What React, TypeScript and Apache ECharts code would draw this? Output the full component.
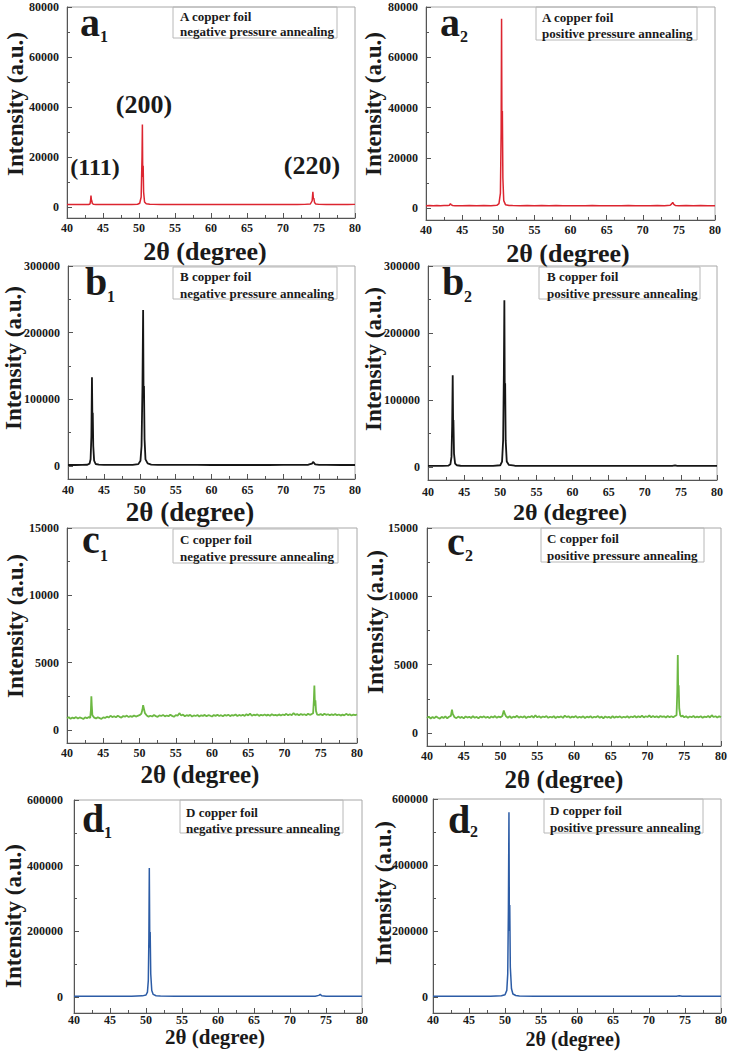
import React, { useEffect, useRef } from "react";
import * as echarts from "echarts";

const FONT = '"Liberation Serif", "Times New Roman", serif';
const TXT = "#1a1a1a";
const RED = "#dc2530";
const BLACK = "#161616";
const GREEN = "#6cb842";
const BLUE = "#2c5ca6";

// ---------- data (2θ, intensity) ----------
const a1Data = [[40,1000],[40.5,1050],[41,980],[41.5,1030],[42,1000],[42.5,1050],[43,1020],[43.2,1200],[43.28,2800],[43.33,4600],[43.38,3000],[43.43,2600],[43.52,1400],[43.7,1050],[44,1000],[45,980],[46,1020],[47,1000],[48,1030],[49,1000],[49.8,1100],[50.1,1500],[50.3,4000],[50.42,20000],[50.47,33000],[50.52,12000],[50.58,16500],[50.64,6000],[50.77,2000],[51,1300],[51.5,1100],[52,1050],[53,1000],[54,1030],[55,1000],[56,1020],[57,980],[58,1000],[59,1020],[60,980],[61,1000],[62,1020],[63,990],[64,1000],[65,1030],[66,1000],[67,1020],[68,1000],[69,1030],[70,1000],[71,1040],[72,1000],[73,1050],[73.8,1200],[74.05,2500],[74.15,6100],[74.22,3200],[74.28,3600],[74.38,1800],[74.55,1200],[75,1050],[76,1030],[77,1000],[78,1040],[79,1000],[80,1050]];
const a2Data = [[40,1000],[40.5,1060],[41,990],[41.5,1040],[42,1000],[42.5,1050],[43,1030],[43.25,1200],[43.38,1800],[43.5,1300],[43.7,1050],[44,1000],[45,980],[46,1020],[47,990],[48,1030],[49,1000],[49.8,1150],[50.1,1800],[50.3,6000],[50.4,30000],[50.46,75300],[50.51,30000],[50.57,38600],[50.64,12000],[50.76,3000],[51,1400],[51.5,1100],[52,1050],[53,1000],[54,1040],[55,1000],[56,1020],[57,990],[58,1030],[59,1000],[60,980],[61,1010],[62,990],[63,1020],[64,1000],[65,990],[66,1010],[67,990],[68,1020],[69,1000],[70,1010],[71,990],[72,1030],[73,1000],[73.8,1150],[74,1700],[74.15,2300],[74.3,1500],[74.5,1100],[75,1000],[76,1040],[77,1000],[78,1020],[79,990],[80,1010]];
const b1Data = [[40,1500],[41,1500],[42,1600],[42.7,1900],[43.0,3500],[43.15,10000],[43.26,45000],[43.34,133000],[43.4,70000],[43.45,80000],[43.52,30000],[43.64,8000],[43.85,3000],[44.3,2000],[45,1700],[46,1600],[47,1600],[48,1700],[49,1800],[49.8,2800],[50.1,8000],[50.25,30000],[50.38,120000],[50.47,234000],[50.53,110000],[50.59,120000],[50.67,40000],[50.8,10000],[51.1,4000],[51.6,2200],[52.5,1800],[54,1700],[56,1600],[58,1600],[60,1500],[62,1500],[64,1500],[66,1500],[68,1500],[70,1600],[72,1700],[73.5,1900],[74,3500],[74.15,6000],[74.3,4500],[74.45,2500],[75,1800],[76,1600],[78,1500],[80,1500]];
const b2Data = [[40,1500],[41,1500],[42,1600],[42.8,1900],[43.1,4000],[43.25,15000],[43.34,60000],[43.42,137000],[43.48,60000],[43.52,70000],[43.6,20000],[43.75,5000],[44,2500],[44.5,1800],[45,1600],[46,1500],[47,1500],[48,1600],[49,1700],[50,2500],[50.25,8000],[50.4,40000],[50.5,140000],[50.57,249000],[50.63,100000],[50.68,125000],[50.75,40000],[50.9,8000],[51.2,3000],[52,1800],[53,1600],[55,1500],[57,1500],[60,1500],[62,1500],[65,1500],[68,1500],[70,1500],[72,1500],[73.8,1700],[74.2,2500],[74.5,1700],[75,1500],[77,1500],[80,1500]];
const c1Data = [[40,880],[40.25,950],[40.5,830],[40.75,920],[41,870],[41.25,960],[41.5,850],[41.75,930],[42,890],[42.25,820],[42.5,940],[42.75,880],[43,960],[43.2,900],[43.3,1500],[43.36,2500],[43.42,1800],[43.5,1100],[43.75,920],[44,860],[44.25,950],[44.5,880],[44.75,830],[45,940],[45.25,900],[45.5,990],[45.75,930],[46,1050],[46.25,960],[46.5,1020],[46.75,940],[47,1060],[47.25,980],[47.5,920],[47.75,1040],[48,990],[48.25,1070],[48.5,960],[48.75,1030],[49,980],[49.25,1080],[49.5,1000],[49.75,1050],[50,1100],[50.25,1200],[50.4,1500],[50.5,1850],[50.6,1600],[50.75,1250],[51,1080],[51.25,990],[51.5,1060],[51.75,1000],[52,1110],[52.25,1030],[52.5,970],[52.75,1090],[53,1040],[53.25,1120],[53.5,1010],[53.75,1080],[54,1020],[54.25,1130],[54.5,1050],[54.75,980],[55,1100],[55.25,1060],[55.5,1250],[55.75,1080],[56,1140],[56.25,1020],[56.5,1100],[56.75,1050],[57,1130],[57.25,1000],[57.5,1080],[57.75,1040],[58,1110],[58.25,1010],[58.5,1090],[58.75,1050],[59,1120],[59.25,1030],[59.5,1100],[59.75,1060],[60,1000],[60.25,1110],[60.5,1050],[60.75,1130],[61,1040],[61.25,1100],[61.5,1020],[61.75,1120],[62,1060],[62.25,1140],[62.5,1030],[62.75,1110],[63,1070],[63.25,1150],[63.5,1040],[63.75,1120],[64,1060],[64.25,1130],[64.5,1050],[64.75,1170],[65,1080],[65.25,1220],[65.5,1060],[65.75,1140],[66,1090],[66.25,1160],[66.5,1050],[66.75,1130],[67,1080],[67.25,1150],[67.5,1070],[67.75,1140],[68,1060],[68.25,1170],[68.5,1090],[68.75,1130],[69,1070],[69.25,1160],[69.5,1080],[69.75,1150],[70,1100],[70.25,1200],[70.5,1090],[70.75,1170],[71,1110],[71.25,1250],[71.5,1120],[71.75,1180],[72,1100],[72.25,1190],[72.5,1120],[72.75,1170],[73,1100],[73.25,1200],[73.5,1130],[73.75,1180],[73.95,1250],[74.05,2200],[74.12,3300],[74.2,1800],[74.26,2200],[74.35,1400],[74.5,1150],[74.75,1120],[75,1180],[75.25,1100],[75.5,1200],[75.75,1130],[76,1170],[76.25,1090],[76.5,1160],[76.75,1110],[77,1180],[77.25,1100],[77.5,1150],[77.75,1070],[78,1140],[78.25,1090],[78.5,1200],[78.75,1110],[79,1160],[79.25,1080],[79.5,1140],[79.75,1100],[80,1150]];
const c2Data = [[40,1100],[40.25,1200],[40.5,1060],[40.75,1170],[41,1090],[41.25,1210],[41.5,1120],[41.75,1050],[42,1180],[42.25,1100],[42.5,1220],[42.75,1080],[43,1190],[43.25,1250],[43.4,1700],[43.5,1400],[43.75,1150],[44,1090],[44.25,1200],[44.5,1110],[44.75,1180],[45,1070],[45.25,1210],[45.5,1130],[45.75,1190],[46,1100],[46.25,1230],[46.5,1120],[46.75,1180],[47,1080],[47.25,1200],[47.5,1140],[47.75,1220],[48,1110],[48.25,1190],[48.5,1090],[48.75,1210],[49,1130],[49.25,1240],[49.5,1110],[49.75,1200],[50,1150],[50.25,1250],[50.45,1650],[50.55,1450],[50.75,1220],[51,1120],[51.25,1230],[51.5,1100],[51.75,1200],[52,1150],[52.25,1260],[52.5,1120],[52.75,1210],[53,1140],[53.25,1230],[53.5,1100],[53.75,1200],[54,1160],[54.25,1250],[54.5,1130],[54.75,1300],[55,1150],[55.25,1220],[55.5,1120],[55.75,1210],[56,1160],[56.25,1240],[56.5,1110],[56.75,1190],[57,1140],[57.25,1230],[57.5,1100],[57.75,1200],[58,1150],[58.25,1220],[58.5,1110],[58.75,1270],[59,1160],[59.25,1230],[59.5,1120],[59.75,1200],[60,1150],[60.25,1240],[60.5,1110],[60.75,1190],[61,1130],[61.25,1220],[61.5,1100],[61.75,1200],[62,1140],[62.25,1230],[62.5,1110],[62.75,1190],[63,1150],[63.25,1240],[63.5,1120],[63.75,1200],[64,1080],[64.25,1210],[64.5,1130],[64.75,1180],[65,1100],[65.25,1230],[65.5,1120],[65.75,1200],[66,1150],[66.25,1220],[66.5,1110],[66.75,1190],[67,1140],[67.25,1230],[67.5,1120],[67.75,1210],[68,1150],[68.25,1240],[68.5,1130],[68.75,1220],[69,1160],[69.25,1260],[69.5,1140],[69.75,1230],[70,1170],[70.25,1280],[70.5,1150],[70.75,1240],[71,1160],[71.25,1230],[71.5,1140],[71.75,1250],[72,1180],[72.25,1220],[72.5,1130],[72.75,1240],[73,1160],[73.25,1230],[73.5,1150],[73.75,1240],[73.95,1300],[74.05,3000],[74.12,5700],[74.18,2800],[74.24,3500],[74.32,1800],[74.45,1300],[74.6,1200],[74.75,1280],[75,1150],[75.25,1230],[75.5,1120],[75.75,1210],[76,1160],[76.25,1240],[76.5,1130],[76.75,1200],[77,1150],[77.25,1230],[77.5,1120],[77.75,1200],[78,1160],[78.25,1250],[78.5,1140],[78.75,1300],[79,1170],[79.25,1230],[79.5,1130],[79.75,1220],[80,1160]];
const d1Data = [[40,2000],[42,2000],[44,2100],[46,2200],[48,2500],[49.5,3500],[50,6000],[50.2,15000],[50.32,50000],[50.4,180000],[50.46,393000],[50.53,150000],[50.58,198000],[50.66,70000],[50.8,20000],[51,8000],[51.4,4000],[52,2800],[54,2300],[57,2100],[60,2000],[65,2000],[70,2000],[73.5,2300],[74,5000],[74.2,8000],[74.4,4000],[75,2300],[77,2000],[80,2000]];
const d2Data = [[40,2000],[42,2000],[44,2100],[46,2200],[48,2600],[49.5,4000],[50,7000],[50.25,20000],[50.38,70000],[50.47,260000],[50.55,560000],[50.61,200000],[50.66,279000],[50.74,90000],[50.9,25000],[51.1,9000],[51.5,4500],[52,3000],[54,2400],[57,2100],[60,2000],[65,2000],[70,2000],[73.8,2200],[74.2,3500],[74.6,2200],[77,2000],[80,2000]];

// ---------- axis ticks ----------
const aTicks = [0, 20000, 40000, 60000, 80000];
const aMinor = [10000, 30000, 50000, 70000];
const bTicks = [0, 100000, 200000, 300000];
const bMinor = [50000, 150000, 250000];
const cTicks = [0, 5000, 10000, 15000];
const cMinor = [2500, 7500, 12500];
const dTicks = [0, 200000, 400000, 600000];
const dMinor = [100000, 300000, 500000];

const letters = ["a", "a", "b", "b", "c", "c", "d", "d"];
const subs = ["1", "2", "1", "2", "1", "2", "1", "2"];
const foils = ["A copper foil", "A copper foil", "B copper foil", "B copper foil", "C copper foil", "C copper foil", "D copper foil", "D copper foil"];
const modes = ["negative pressure annealing", "positive pressure annealing", "negative pressure annealing", "positive pressure annealing", "negative pressure annealing", "positive pressure annealing", "negative pressure annealing", "positive pressure annealing"];
const hklLabels = ["(111)", "(200)", "(220)"];

// ---------- layout ----------
const panels = [
  { data: a1Data, color: RED, lw: 1.5, g: [67, 7, 288, 211], yMin: -4400, yMax: 80000, ticks: aTicks, minor: aMinor, yM: 8, xM: 4,
    lab: [80, 36, 100, 42], box: [173, 7, 164, 31, 180, 16, 31], yt: [15, 104], xt: [205, 251, 26] },
  { data: a2Data, color: RED, lw: 1.5, g: [426, 7, 289, 213], yMin: -4700, yMax: 80000, ticks: aTicks, minor: aMinor, yM: 8, xM: 4,
    lab: [440, 36, 460, 42], box: [536, 7, 161, 33, 542, 17, 33], yt: [373, 104], xt: [568, 253, 26] },
  { data: b1Data, color: BLACK, lw: 1.8, g: [68, 266, 287, 213], yMin: -19500, yMax: 300000, ticks: bTicks, minor: bMinor, yM: 8, xM: 5,
    lab: [85, 295, 107, 302], box: [173, 267, 164, 32, 180, 276, 293], yt: [13, 358], xt: [190, 512, 27] },
  { data: b2Data, color: BLACK, lw: 1.8, g: [428, 266, 289, 214], yMin: -19500, yMax: 300000, ticks: bTicks, minor: bMinor, yM: 8, xM: 6,
    lab: [442, 295, 464, 302], box: [539, 267, 161, 32, 547, 276, 293], yt: [373, 359], xt: [570, 512, 24] },
  { data: c1Data, color: GREEN, lw: 1.8, g: [67, 528, 290, 215], yMin: -965, yMax: 15000, ticks: cTicks, minor: cMinor, yM: 8, xM: 4,
    lab: [82, 553, 100, 561], box: [173, 529, 165, 34, 180, 539, 556], yt: [15, 626], xt: [200, 774, 25] },
  { data: c2Data, color: GREEN, lw: 1.8, g: [427, 528, 294, 218], yMin: -950, yMax: 15000, ticks: cTicks, minor: cMinor, yM: 9, xM: 4,
    lab: [447, 555, 465, 561], box: [541, 528, 163, 34, 547, 538, 555], yt: [375, 622], xt: [564, 779, 25] },
  { data: d1Data, color: BLUE, lw: 1.5, g: [74, 800, 288, 213], yMin: -48700, yMax: 600000, ticks: dTicks, minor: dMinor, yM: 11, xM: 1,
    lab: [82, 832, 104, 838], box: [180, 800, 163, 33, 186, 812, 828], yt: [13, 916], xt: [215, 1037, 21] },
  { data: d2Data, color: BLUE, lw: 1.5, g: [433, 799, 288, 214], yMin: -48500, yMax: 600000, ticks: dTicks, minor: dMinor, yM: 5, xM: 1,
    lab: [448, 833, 470, 837], box: [544, 799, 159, 34, 550, 810, 827], yt: [383, 893], xt: [573, 1039, 20] },
];
const hklPos = [[95, 167, 24], [144, 104, 26], [312, 165, 26]];

function txt(text: string, x: number, y: number, size: number, align = "left", rot = 0) {
  return {
    type: "text", x, y, rotation: rot, silent: true,
    style: { text, fill: TXT, fontSize: size, fontWeight: "bold", fontFamily: FONT, textAlign: align, textVerticalAlign: "middle" },
  };
}

export default function App() {
  const ref = useRef<HTMLDivElement>(null);
  useEffect(() => {
    if (!ref.current) return;
    const chart = echarts.init(ref.current, null, { renderer: "svg" });
    const labelStyle = { fontSize: 12, fontWeight: "bold", fontFamily: FONT, color: TXT };
    const grid = panels.map((p) => ({
      left: p.g[0], top: p.g[1], width: p.g[2], height: p.g[3],
      show: true, borderColor: "#a8a8a8", borderWidth: 1, containLabel: false, outerBoundsMode: "none",
    }));
    const xAxis = panels.map((p, i) => ({
      type: "value", gridIndex: i, min: 40, max: 80, interval: 5,
      axisLine: { show: true, onZero: false, lineStyle: { color: "#555", width: 1 } },
      axisTick: { show: true, inside: true, length: 5, lineStyle: { color: "#555" } },
      minorTick: { show: true, splitNumber: 2, length: 3, lineStyle: { color: "#555" } },
      splitLine: { show: false }, minorSplitLine: { show: false },
      axisLabel: { ...labelStyle, margin: p.xM, formatter: (v: number) => String(v) },
    }));
    const yAxis: any[] = [];
    panels.forEach((p, i) => {
      yAxis.push({
        type: "value", gridIndex: i, min: p.yMin, max: p.yMax, position: "left",
        axisLine: { show: true, onZero: false, lineStyle: { color: "#555", width: 1 } },
        axisTick: { show: true, inside: true, length: 5, customValues: p.ticks, lineStyle: { color: "#555" } },
        splitLine: { show: false },
        axisLabel: { ...labelStyle, margin: p.yM, customValues: p.ticks, formatter: (v: number) => String(v) },
      });
      yAxis.push({
        type: "value", gridIndex: i, min: p.yMin, max: p.yMax, position: "left",
        axisLine: { show: false },
        axisTick: { show: true, inside: true, length: 3, customValues: p.minor, lineStyle: { color: "#555" } },
        splitLine: { show: false },
        axisLabel: { show: false },
      });
    });
    const series = panels.map((p, i) => ({
      type: "line", xAxisIndex: i, yAxisIndex: 2 * i, data: p.data, showSymbol: false, symbol: "none",
      silent: true, lineStyle: { color: p.color, width: p.lw }, z: 3,
    }));
    const graphic: any[] = [];
    panels.forEach((p, i) => {
      graphic.push(txt(letters[i], p.lab[0], p.lab[1] - 0.34 * 40, 40));
      graphic.push(txt(subs[i], p.lab[2], p.lab[3] - 0.34 * 16, 16));
      graphic.push({
        type: "rect", silent: true, shape: { x: p.box[0], y: p.box[1], width: p.box[2], height: p.box[3] },
        style: { fill: "rgba(0,0,0,0)", stroke: "#b8b8b8", lineWidth: 1 },
      });
      graphic.push(txt(foils[i], p.box[4], p.box[5], 13));
      graphic.push(txt(modes[i], p.box[4], p.box[6], 13));
      graphic.push(txt("Intensity (a.u.)", p.yt[0], p.yt[1], 23, "center", Math.PI / 2));
      graphic.push(txt("2θ (degree)", p.xt[0], p.xt[1], p.xt[2], "center"));
    });
    hklLabels.forEach((t, k) => graphic.push(txt(t, hklPos[k][0], hklPos[k][1], hklPos[k][2], "center")));
    chart.setOption({ animation: false, grid, xAxis, yAxis, series, graphic });
    return () => chart.dispose();
  }, []);
  return <div ref={ref} style={{ position: "absolute", left: 0, top: 0, width: 729, height: 1058, background: "#fff" }} />;
}
